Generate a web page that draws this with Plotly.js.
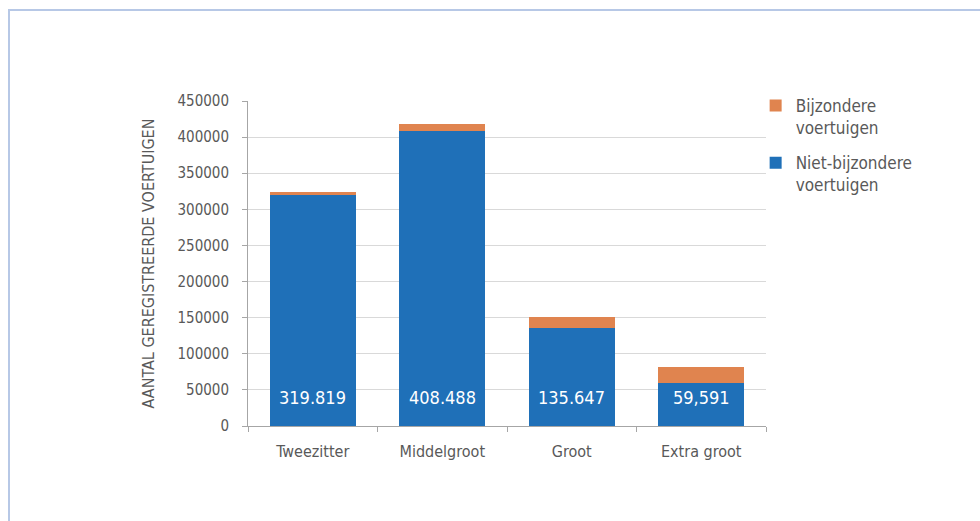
<!DOCTYPE html>
<html>
<head>
<meta charset="utf-8">
<script src="https://cdn.plot.ly/plotly-3.0.1.min.js"></script>
<style>
    html, body { margin: 0; padding: 0; background: #fff; }
    #frame {
        position: absolute; left: 8px; top: 9px; width: 980px; height: 520px;
        border-left: 2px solid #b7c8e6; border-top: 2px solid #b7c8e6;
    }
    #chart { position: absolute; left: 0; top: 0; width: 980px; height: 521px; }
</style>
</head>
<body>
<div id="frame"></div>
<div id="chart"></div>
<script>
// data
const categories = ["Tweezitter", "Middelgroot", "Groot", "Extra groot"];
const nietBijzonder = [319819, 408488, 135647, 59591];
const bijzonder = [3500, 9000, 15500, 21500];
const valueLabels = ["319.819", "408.488", "135.647", "59,591"];

const FONT = "'Liberation Sans Narrow', 'DejaVu Sans Condensed', 'Arial Narrow', sans-serif";
const GREY = "#595959";

const traces = [
    {
        type: "bar",
        name: "Niet-bijzondere<br>voertuigen",
        legendgroup: "niet",
        legendrank: 2,
        x: categories,
        y: nietBijzonder,
        marker: { color: "#1f70b8" },
        hoverinfo: "y"
    },
    {
        type: "bar",
        name: "Bijzondere<br>voertuigen",
        legendgroup: "bijz",
        legendrank: 1,
        x: categories,
        y: bijzonder,
        marker: { color: "#e0844f" },
        hoverinfo: "y"
    }
];

const annotations = categories.map((c, i) => ({
    x: c,
    y: 40000,
    xref: "x",
    yref: "y",
    text: valueLabels[i],
    showarrow: false,
    font: { family: FONT, size: 18, color: "#ffffff" }
}));

const layout = {
    width: 980,
    height: 521,
    margin: { l: 248, r: 214, t: 101, b: 95 },
    paper_bgcolor: "rgba(0,0,0,0)",
    plot_bgcolor: "rgba(0,0,0,0)",
    barmode: "stack",
    bargap: 0.336,
    font: { family: FONT, color: GREY },
    showlegend: true,
    legend: {
        x: 0.98, y: 1.04, xanchor: "left", yanchor: "top",
        traceorder: "grouped",
        valign: "top",
        font: { family: FONT, size: 17, color: GREY },
        itemwidth: 30,
        tracegroupgap: 10
    },
    xaxis: {
        type: "category",
        showline: true,
        linecolor: "#a6a6a6",
        ticks: "outside",
        tickson: "boundaries",
        ticklen: 5,
        tickcolor: "#a6a6a6",
        ticklabelstandoff: 11,
        tickfont: { family: FONT, size: 16, color: GREY },
        showgrid: false,
        automargin: false
    },
    yaxis: {
        range: [0, 450000],
        dtick: 50000,
        tickformat: "d",
        showline: true,
        linecolor: "#a6a6a6",
        ticks: "outside",
        ticklen: 5,
        tickcolor: "#a6a6a6",
        ticklabelstandoff: 10,
        tickfont: { family: FONT, size: 15, color: GREY },
        gridcolor: "#d9d9d9",
        zeroline: false,
        automargin: false,
        title: {
            text: "AANTAL GEREGISTREERDE VOERTUIGEN",
            font: { family: FONT, size: 16, color: GREY },
            standoff: 18
        }
    },
    annotations: annotations
};

Plotly.newPlot("chart", traces, layout, { displayModeBar: false, staticPlot: true });
</script>
</body>
</html>
